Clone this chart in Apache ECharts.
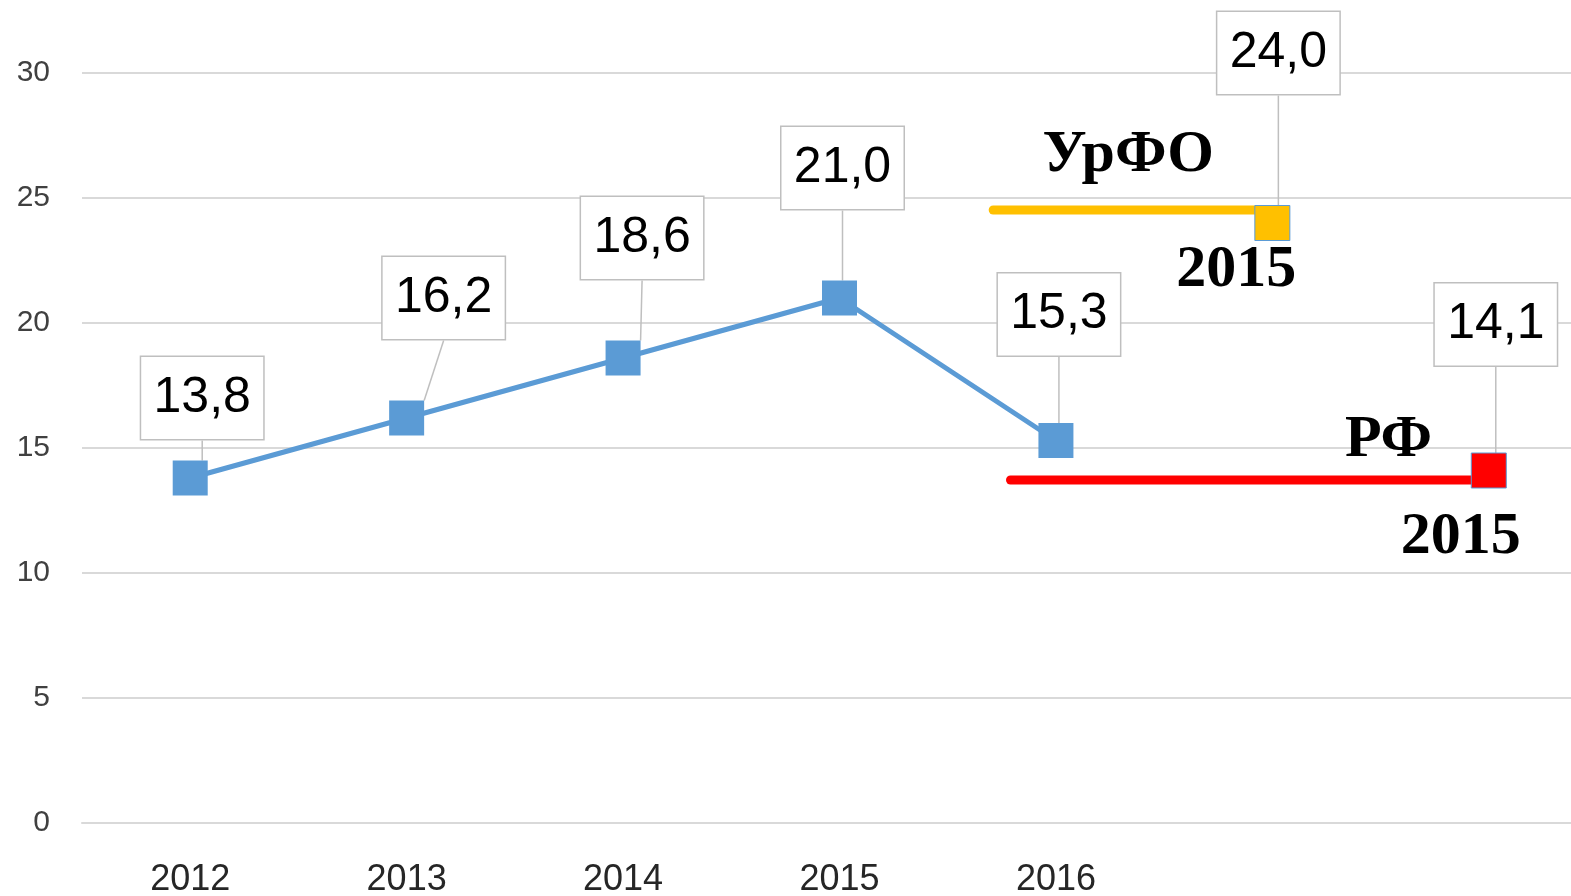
<!DOCTYPE html>
<html>
<head>
<meta charset="utf-8">
<script src="https://cdn.jsdelivr.net/npm/echarts@6/dist/echarts.min.js"></script>
<style>
  html, body { margin: 0; padding: 0; background: #fff; }
  #chart { width: 1571px; height: 896px; }
</style>
</head>
<body>
<div id="chart"></div>
<script>
// категории и значения
const years = ['2012', '2013', '2014', '2015', '2016', '', ''];
const regionValues = [13.8, 16.2, 18.6, 21.0, 15.3];

// УрФО 2015 и РФ 2015 (позиция по индексу категории)
const urfoPoint = [[5, 24.0]];
const rfPoint = [[6, 14.1]];
// горизонтальные линии-указатели
const urfoLine = [[3.71, 24.52], [5, 24.52]];
const rfLine = [[3.79, 13.72], [6, 13.72]];

const yTicks = { min: 0, max: 30, interval: 5 };

const boxFont = 'Liberation Sans, Arial, sans-serif';
const serifFont = 'Liberation Serif, Times New Roman, serif';

const boxLabel = {
  show: true,
  position: 'inside',
  formatter: (p) => (Array.isArray(p.value) ? p.value[1] : p.value).toFixed(1).replace('.', ','),
  fontFamily: boxFont,
  fontSize: 50,
  color: '#000',
  lineHeight: 64,
  width: 104,
  align: 'center',
  backgroundColor: '#fff',
  borderColor: '#bfbfbf',
  borderWidth: 1.5,
  padding: [9, 9, 9, 9],
};
const guide = {
  show: true,
  lineStyle: { color: '#bfbfbf', width: 1.5 },
};

// сдвиги подписей
const blueShift = [[12, -80], [37, -120], [19, -120], [3, -130], [3, -126]];

const titleText = (text, dx, dy) => ({
  show: true,
  position: 'inside',
  formatter: text,
  offset: [dx, dy],
  fontFamily: serifFont,
  fontWeight: 'bold',
  fontSize: 60,
  color: '#000',
});

const myChart = echarts.init(document.getElementById('chart'));

myChart.setOption({
  animation: false,
  backgroundColor: '#fff',
  grid: {
    left: 82,
    width: 1515,
    top: 73,
    bottom: 73,
    containLabel: false,
    outerBoundsMode: 'none',
  },
  xAxis: [
    {
      type: 'category',
      data: years,
      boundaryGap: true,
      axisTick: { show: false },
      axisLine: { show: true, lineStyle: { color: '#d9d9d9', width: 2 } },
      axisLabel: {
        color: '#262626',
        fontFamily: boxFont,
        fontSize: 36,
        margin: 39,
        interval: 0,
      },
    },
    {
      type: 'value',
      min: -0.5,
      max: 6.5,
      show: false,
      splitLine: { show: false },
    },
  ],
  yAxis: {
    type: 'value',
    min: yTicks.min,
    max: yTicks.max,
    interval: yTicks.interval,
    axisLine: { show: false },
    axisTick: { show: false },
    splitLine: { lineStyle: { color: '#d9d9d9', width: 2 } },
    axisLabel: {
      color: '#404040',
      fontFamily: boxFont,
      fontSize: 30,
      margin: 32,
    },
  },
  series: [
    {
      name: 'УрФО линия',
      type: 'line',
      xAxisIndex: 1,
      data: urfoLine.map((d, i) => ({
        value: d,
        label: i === 0 ? titleText('УрФО', 135, -55) : titleText('2015', -36, 60),
      })),
      symbol: 'circle',
      symbolSize: 0.1,
      showAllSymbol: true,
      itemStyle: { color: '#ffc000' },
      lineStyle: { color: '#ffc000', width: 9, cap: 'round' },
      z: 2,
    },
    {
      name: 'РФ линия',
      type: 'line',
      xAxisIndex: 1,
      data: rfLine.map((d, i) => ({
        value: d,
        label: i === 0 ? titleText('РФ', 378, -40) : titleText('2015', -28, 57),
      })),
      symbol: 'circle',
      symbolSize: 0.1,
      showAllSymbol: true,
      itemStyle: { color: '#ff0000' },
      lineStyle: { color: '#ff0000', width: 9, cap: 'round' },
      z: 2,
    },
    {
      name: 'Регион',
      type: 'line',
      data: regionValues,
      symbol: 'rect',
      symbolSize: 35,
      showAllSymbol: true,
      itemStyle: { color: '#5b9bd5' },
      lineStyle: { color: '#5b9bd5', width: 5 },
      label: boxLabel,
      labelLine: guide,
      labelLayout: (p) => ({ dx: blueShift[p.dataIndex][0], dy: blueShift[p.dataIndex][1] }),
      z: 3,
    },
    {
      name: 'УрФО',
      type: 'scatter',
      xAxisIndex: 1,
      data: urfoPoint,
      symbol: 'rect',
      symbolSize: 35,
      itemStyle: { color: '#ffc000', borderColor: '#5b9bd5', borderWidth: 1, opacity: 1 },
      label: boxLabel,
      labelLine: guide,
      labelLayout: { dx: 6, dy: -170 },
      z: 3,
    },
    {
      name: 'РФ',
      type: 'scatter',
      xAxisIndex: 1,
      data: rfPoint,
      symbol: 'rect',
      symbolSize: 35,
      itemStyle: { color: '#ff0000', borderColor: '#5b9bd5', borderWidth: 1, opacity: 1 },
      label: boxLabel,
      labelLine: guide,
      labelLayout: { dx: 7, dy: -146 },
      z: 3,
    },
  ],
});

window.addEventListener('resize', () => {
  myChart.resize();
});
</script>
</body>
</html>
